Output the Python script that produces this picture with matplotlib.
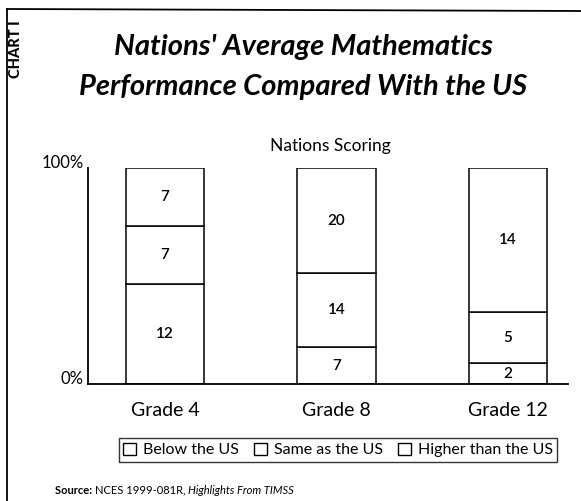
"""Nations' average mathematics performance compared with the US (TIMSS)"""
import matplotlib.pyplot as plt
from matplotlib.patches import Patch
from matplotlib.lines import Line2D
import matplotlib.transforms as mtransforms

plt.rcParams['font.family'] = ['Lato', 'DejaVu Sans']

grades = ["Grade 4", "Grade 8", "Grade 12"]
series = ["Below the US", "Same as the US", "Higher than the US"]
below = [12, 7, 2]
same = [7, 14, 5]
higher = [7, 20, 14]

W, H = 581, 501
fig = plt.figure(figsize=(W / 100, H / 100), dpi=100)

# axes box in pixels: x 88..568, y 168..384
ax = fig.add_axes([88 / W, 1 - 384 / H, 480 / W, 216 / H])

x = list(range(len(grades)))
totals = [b + s + h for b, s, h in zip(below, same, higher)]
bottom = [0.0] * len(grades)
for counts in (below, same, higher):
    pct = [c / t * 100 for c, t in zip(counts, totals)]
    ax.bar(x, pct, width=0.455, bottom=bottom, color='white',
           edgecolor='black', linewidth=1.1)
    for xi, b, p, c in zip(x, bottom, pct, counts):
        ax.text(xi, b + p / 2, str(c), ha='center', va='center',
                fontsize=11, fontweight='semibold')
    bottom = [b + p for b, p in zip(bottom, pct)]

ax.set_xlim(-0.449, 2.35)
ax.set_ylim(0, 100)
for s in ('top', 'right'):
    ax.spines[s].set_visible(False)
for s in ('left', 'bottom'):
    ax.spines[s].set_linewidth(1.3)
ax.set_xticks(x, grades, fontsize=14)
ax.set_yticks([0, 100], ['0%', '100%'], fontsize=12)
ax.tick_params(axis='both', length=0)
ax.tick_params(axis='x', pad=13)
ax.tick_params(axis='y', pad=3)
for lab in ax.get_yticklabels():
    lab.set_va('baseline')

# titles
fig.text(303 / W, 1 - 47 / H, "Nations' Average Mathematics", ha='center',
         va='center', fontsize=21, fontweight='bold', style='italic')
fig.text(303 / W, 1 - 87 / H, "Performance Compared With the US", ha='center',
         va='center', fontsize=21, fontweight='bold', style='italic')
fig.text(16 / W, 1 - 49 / H, "CHART I", rotation=90, ha='center', va='center',
         fontsize=10.5, fontweight='black')
fig.text(330 / W, 1 - 146 / H, "Nations Scoring", ha='center', va='center',
         fontsize=12.5)

# frame lines (top and left only)
fig.add_artist(Line2D([7 / W, 1], [1 - 9 / H, 1 - 11 / H], color='black', lw=1.3))
fig.add_artist(Line2D([7 / W, 7 / W], [1 - 9 / H, 0], color='black', lw=1.3))

handles = [Patch(facecolor='white', edgecolor='black', linewidth=1) for _ in series]
leg = fig.legend(handles, series, loc='center', bbox_to_anchor=(338 / W, 1 - 450 / H),
                 ncol=3, fontsize=11.5, frameon=True, fancybox=False,
                 edgecolor='black', handlelength=0.8, handleheight=0.8,
                 handletextpad=0.4, columnspacing=1.0, borderpad=0.3)
leg.get_frame().set_linewidth(1.0)

# source line with mixed weights
t = fig.text(55 / W, 1 - 490 / H, "Source: ", fontsize=8, fontweight='bold', va='center')
fig.canvas.draw()
t2 = fig.text(0, 0, "NCES 1999-081R, ", fontsize=8, va='center',
              transform=mtransforms.offset_copy(t.get_transform(), fig=fig,
                                                x=t.get_window_extent().width, units='dots'))
t2.set_position(t.get_position())
fig.canvas.draw()
t3 = fig.text(0, 0, "Highlights From TIMSS", fontsize=8, style='italic', va='center',
              transform=mtransforms.offset_copy(t.get_transform(), fig=fig,
                                                x=t.get_window_extent().width + t2.get_window_extent().width,
                                                units='dots'))
t3.set_position(t.get_position())

fig.savefig("out.png", dpi=100)
